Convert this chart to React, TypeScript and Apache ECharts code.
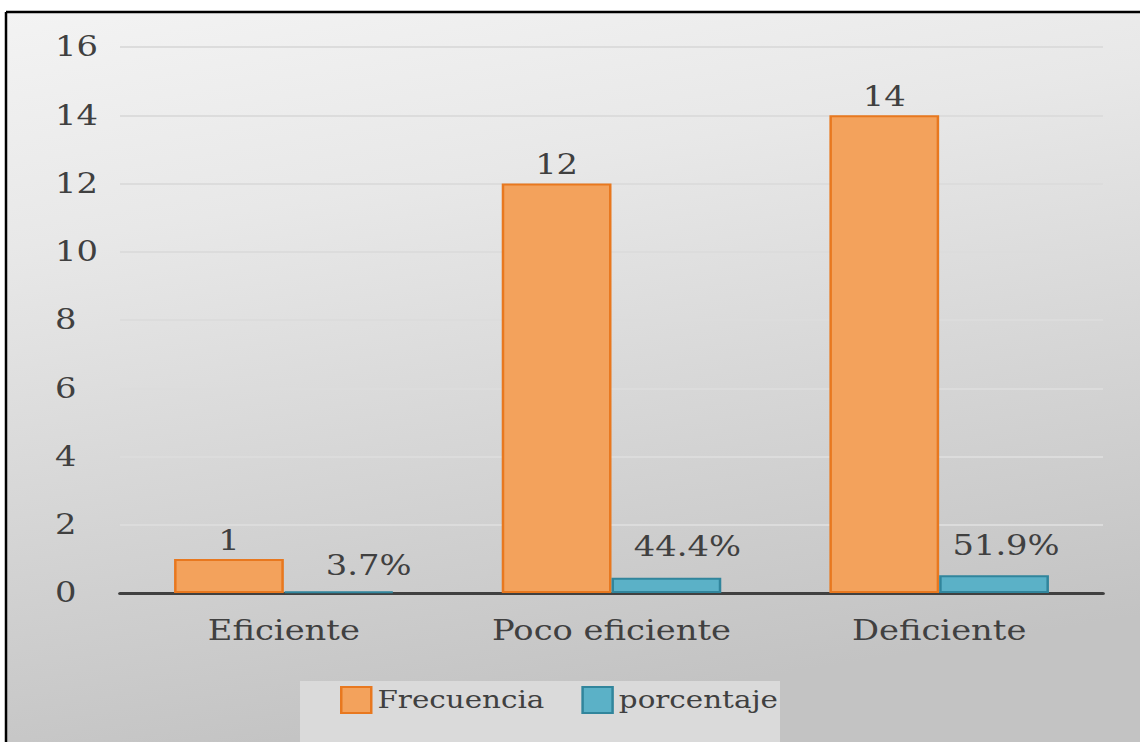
import React, { useEffect, useRef } from "react";
import * as echarts from "echarts";

const categories = ["Eficiente", "Poco eficiente", "Deficiente"];
const frecuencia = [1, 12, 14];
const porcentaje = [3.7, 44.4, 51.9];
const porcentajeLabels = ["3.7%", "44.4%", "51.9%"];
const yTicks = { min: 0, max: 16, interval: 2 };

// The chart is laid out on a narrower canvas and widened with a CSS scaleX,
// which gives the broad, stretched lettering of the original figure.
const STRETCH = 1.25;
const PAGE_W = 1140;
const PAGE_H = 742;
const W = PAGE_W / STRETCH;
const sx = (x: number) => x / STRETCH;

const FONT = "'DejaVu Serif', serif";
const TEXT = "#404040";
const FS = 27;

// hand-placed nudges of the percentage labels (page pixels)
const pctLabelNudge = [
  [30, 4],
  [21, -2],
  [12, 0],
];

export default function App() {
  const ref = useRef<HTMLDivElement>(null);

  useEffect(() => {
    if (!ref.current) return;
    const chart = echarts.init(ref.current, null, { renderer: "svg" });
    chart.setOption({
      animation: false,
      backgroundColor: "#ffffff",
      graphic: [
        {
          type: "rect",
          z: -10,
          shape: { x: sx(6), y: 12, width: W, height: PAGE_H },
          style: {
            fill: new echarts.graphic.LinearGradient(0, 0, 0.25, 1, [
              { offset: 0, color: "#f3f3f3" },
              { offset: 0.3, color: "#e8e8e8" },
              { offset: 1, color: "#c3c3c3" },
            ]),
          },
        },
        {
          type: "line",
          z: 10,
          shape: { x1: sx(6), y1: 12, x2: W, y2: 12 },
          style: { stroke: "#000", lineWidth: 2.5 },
        },
        {
          type: "line",
          z: 10,
          shape: { x1: sx(6), y1: 12, x2: sx(6), y2: PAGE_H },
          style: { stroke: "#000", lineWidth: 2 },
        },
        {
          type: "rect",
          z: -5,
          shape: { x: sx(300), y: 681, width: sx(480), height: 70 },
          style: { fill: "#dadada" },
        },
      ],
      grid: { left: sx(120), right: sx(37), top: 47, bottom: 149, containLabel: false },
      legend: {
        left: sx(340),
        top: 686,
        padding: 0,
        itemWidth: sx(30),
        itemHeight: 26,
        itemGap: sx(37),
        icon: "rect",
        textStyle: { fontFamily: FONT, fontSize: 23.5, color: TEXT },
        data: ["Frecuencia", "porcentaje"],
      },
      xAxis: {
        type: "category",
        data: categories,
        axisLine: { lineStyle: { color: "#404040", width: 3 } },
        axisTick: { show: false },
        axisLabel: { fontFamily: FONT, fontSize: FS, color: TEXT, margin: 24 },
      },
      yAxis: {
        type: "value",
        min: yTicks.min,
        max: yTicks.max,
        interval: yTicks.interval,
        axisLine: { show: false },
        axisTick: { show: false },
        splitLine: { lineStyle: { color: "#dcdcdc", width: 2 } },
        axisLabel: {
          fontFamily: FONT,
          fontSize: FS,
          color: TEXT,
          align: "left",
          margin: sx(120 - 55),
        },
      },
      series: [
        {
          name: "Frecuencia",
          type: "bar",
          data: frecuencia,
          barGap: "0%",
          barCategoryGap: "33%",
          itemStyle: { color: "#f3a25c", borderColor: "#e8781f", borderWidth: 2 },
          label: {
            show: true,
            position: "top",
            distance: 5,
            fontFamily: FONT,
            fontSize: FS,
            color: TEXT,
          },
        },
        {
          name: "porcentaje",
          type: "bar",
          data: porcentaje.map((p, i) => ({
            value: p / 100,
            label: { offset: [sx(pctLabelNudge[i][0]), pctLabelNudge[i][1]] },
          })),
          itemStyle: { color: "#5bb1c7", borderColor: "#31859c", borderWidth: 2 },
          label: {
            show: true,
            position: "top",
            distance: 16,
            fontFamily: FONT,
            fontSize: FS,
            color: TEXT,
            formatter: (p: any) => porcentajeLabels[p.dataIndex],
          },
        },
      ],
    });
    return () => chart.dispose();
  }, []);

  return (
    <div
      ref={ref}
      style={{
        position: "fixed",
        left: 0,
        top: 0,
        width: W,
        height: PAGE_H,
        transform: `scaleX(${STRETCH})`,
        transformOrigin: "0 0",
      }}
    />
  );
}
